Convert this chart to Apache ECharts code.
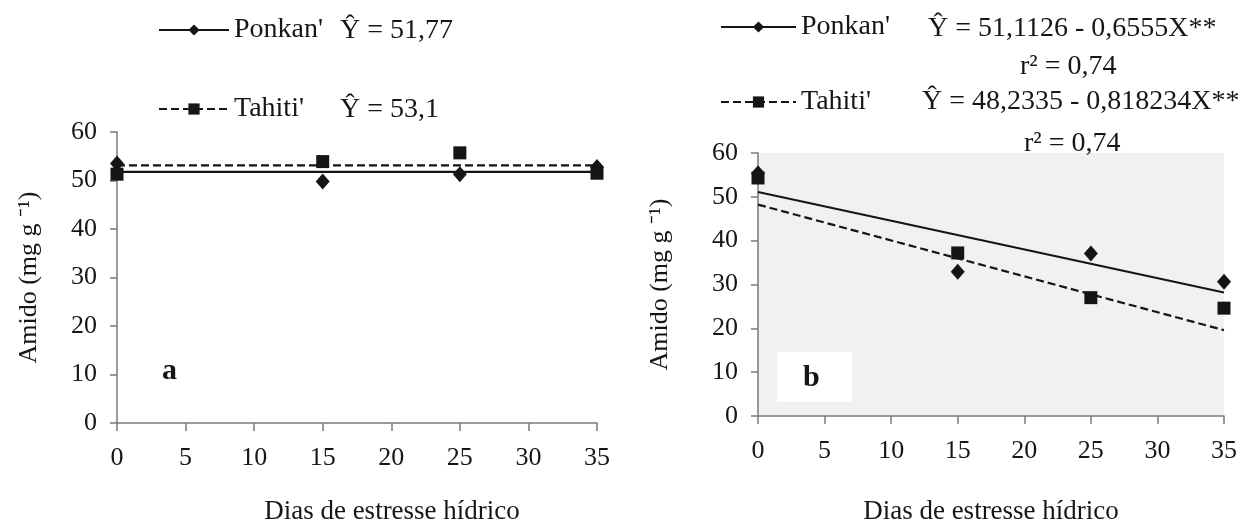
<!DOCTYPE html>
<html>
<head>
<meta charset="utf-8">
<script src="https://cdn.jsdelivr.net/npm/echarts@6/dist/echarts.min.js"></script>
<style>
  html, body { margin: 0; padding: 0; background: #ffffff; }
  #chart { width: 1244px; height: 530px; }
</style>
</head>
<body>
<div id="chart"></div>
<script>
// ---- data ----
const days = [0, 15, 25, 35];
const ponkanA = [53.5, 49.8, 51.3, 52.8];
const tahitiA = [51.3, 53.9, 55.7, 51.5];
const ponkanB = [55.4, 32.9, 37.1, 30.6];
const tahitiB = [54.3, 37.2, 27.0, 24.6];
const fitDays = [0, 35];
const ponkanFitA = [51.77, 51.77];
const tahitiFitA = [53.1, 53.1];
const ponkanFitB = [51.11, 28.17];
const tahitiFitB = [48.23, 19.59];
const seriesNames = ["Ponkan'", "Tahiti'"];
const eqA = ["Ŷ = 51,77", "Ŷ = 53,1"];
const eqB = ["Ŷ = 51,1126 - 0,6555X**", "Ŷ = 48,2335 - 0,818234X**"];
const r2B = ["r² = 0,74", "r² = 0,74"];
const xName = "Dias de estresse hídrico";
const yName = "Amido (mg g ⁻¹)";

const FONT = "'Liberation Serif', 'Times New Roman', serif";
const INK = "#151515";
const TXT = "#161616";
const AXIS = "#7a7a7a";

function pairs(xs, ys) { return xs.map((x, i) => [x, ys[i]]); }

function xAxisCfg(gridIndex, gap, pad) {
  return {
    type: 'value', gridIndex: gridIndex, min: 0, max: 35, interval: 5,
    name: xName, nameLocation: 'middle', nameGap: gap,
    nameTextStyle: { fontFamily: FONT, fontSize: 27, color: TXT, padding: pad },
    axisLine: { lineStyle: { color: AXIS, width: 1.5 } },
    axisTick: { show: true, length: 8, lineStyle: { color: AXIS, width: 1.5 } },
    axisLabel: { fontFamily: FONT, fontSize: 26, color: TXT, margin: 22 },
    splitLine: { show: false }
  };
}
function yAxisCfg(gridIndex, gap) {
  return {
    type: 'value', gridIndex: gridIndex, min: 0, max: 60, interval: 10,
    name: yName, nameLocation: 'middle', nameGap: gap, nameRotate: 90,
    nameTextStyle: { fontFamily: FONT, fontSize: 26, color: TXT },
    axisLine: { show: true, lineStyle: { color: AXIS, width: 1.5 } },
    axisTick: { show: true, length: 7, lineStyle: { color: AXIS, width: 1.5 } },
    axisLabel: { fontFamily: FONT, fontSize: 26, color: TXT, margin: 20 },
    splitLine: { show: false }
  };
}
function fitLine(name, data, idx, dashed, sym) {
  return {
    type: 'line', name: name, xAxisIndex: idx, yAxisIndex: idx,
    data: data, symbol: sym, symbolSize: sym === 'diamond' ? 14 : 12,
    showSymbol: false, silent: true,
    lineStyle: { color: INK, width: 2.2, type: dashed ? [8, 4] : 'solid' },
    itemStyle: { color: INK },
    z: 3
  };
}
function points(name, data, idx, sym) {
  return {
    type: 'scatter', name: name, xAxisIndex: idx, yAxisIndex: idx,
    data: data, symbol: sym, symbolSize: sym === 'diamond' ? [14, 16] : 13,
    itemStyle: { color: INK, opacity: 1 },
    z: 4
  };
}
function legendCfg(left, top, width, gap) {
  return {
    orient: 'vertical', left: left, top: top, itemWidth: width, itemHeight: 14,
    itemGap: gap, data: seriesNames, selectedMode: false,
    textStyle: { fontFamily: FONT, fontSize: 28, color: TXT }
  };
}
function txt(x, y, s, size, bold) {
  return {
    type: 'text', left: x, top: y, z: 10,
    style: { text: s, fontFamily: FONT, fontSize: size, fontWeight: bold ? 'bold' : 'normal', fill: TXT }
  };
}

const chart = echarts.init(document.getElementById('chart'), null, { renderer: 'canvas' });
chart.setOption({
  backgroundColor: '#ffffff',
  animation: false,
  textStyle: { fontFamily: FONT },
  grid: [
    { left: 117, right: 647, top: 132, bottom: 105, containLabel: false },
    { left: 758, right: 20, top: 153, bottom: 105, containLabel: false,
      show: true, backgroundColor: '#f1f1f1', borderWidth: 0 }
  ],
  xAxis: [ xAxisCfg(0, 75, [0, 0, 0, 70]), xAxisCfg(1, 82, 0) ],
  yAxis: [ yAxisCfg(0, 75), yAxisCfg(1, 85) ],
  legend: [ legendCfg(153, 11, 70, 51), legendCfg(715, 8, 75, 47) ],
  series: [
    fitLine(seriesNames[0], pairs(fitDays, ponkanFitA), 0, false, 'diamond'),
    fitLine(seriesNames[1], pairs(fitDays, tahitiFitA), 0, true, 'rect'),
    fitLine(seriesNames[0], pairs(fitDays, ponkanFitB), 1, false, 'diamond'),
    fitLine(seriesNames[1], pairs(fitDays, tahitiFitB), 1, true, 'rect'),
    points(seriesNames[0], pairs(days, ponkanA), 0, 'diamond'),
    points(seriesNames[1], pairs(days, tahitiA), 0, 'rect'),
    points(seriesNames[0], pairs(days, ponkanB), 1, 'diamond'),
    points(seriesNames[1], pairs(days, tahitiB), 1, 'rect')
  ],
  graphic: [
    txt(340, 17, eqA[0], 28),
    txt(340, 96, eqA[1], 28),
    txt(928, 15, eqB[0], 28),
    txt(1020, 53, r2B[0], 28),
    txt(922, 88, eqB[1], 28),
    txt(1024, 130, r2B[1], 28),
    txt(162, 356, 'a', 30, true),
    { type: 'rect', left: 777, top: 352, z: 1, shape: { width: 75, height: 50 },
      style: { fill: '#ffffff' } },
    txt(803, 363, 'b', 30, true)
  ]
});
</script>
</body>
</html>
